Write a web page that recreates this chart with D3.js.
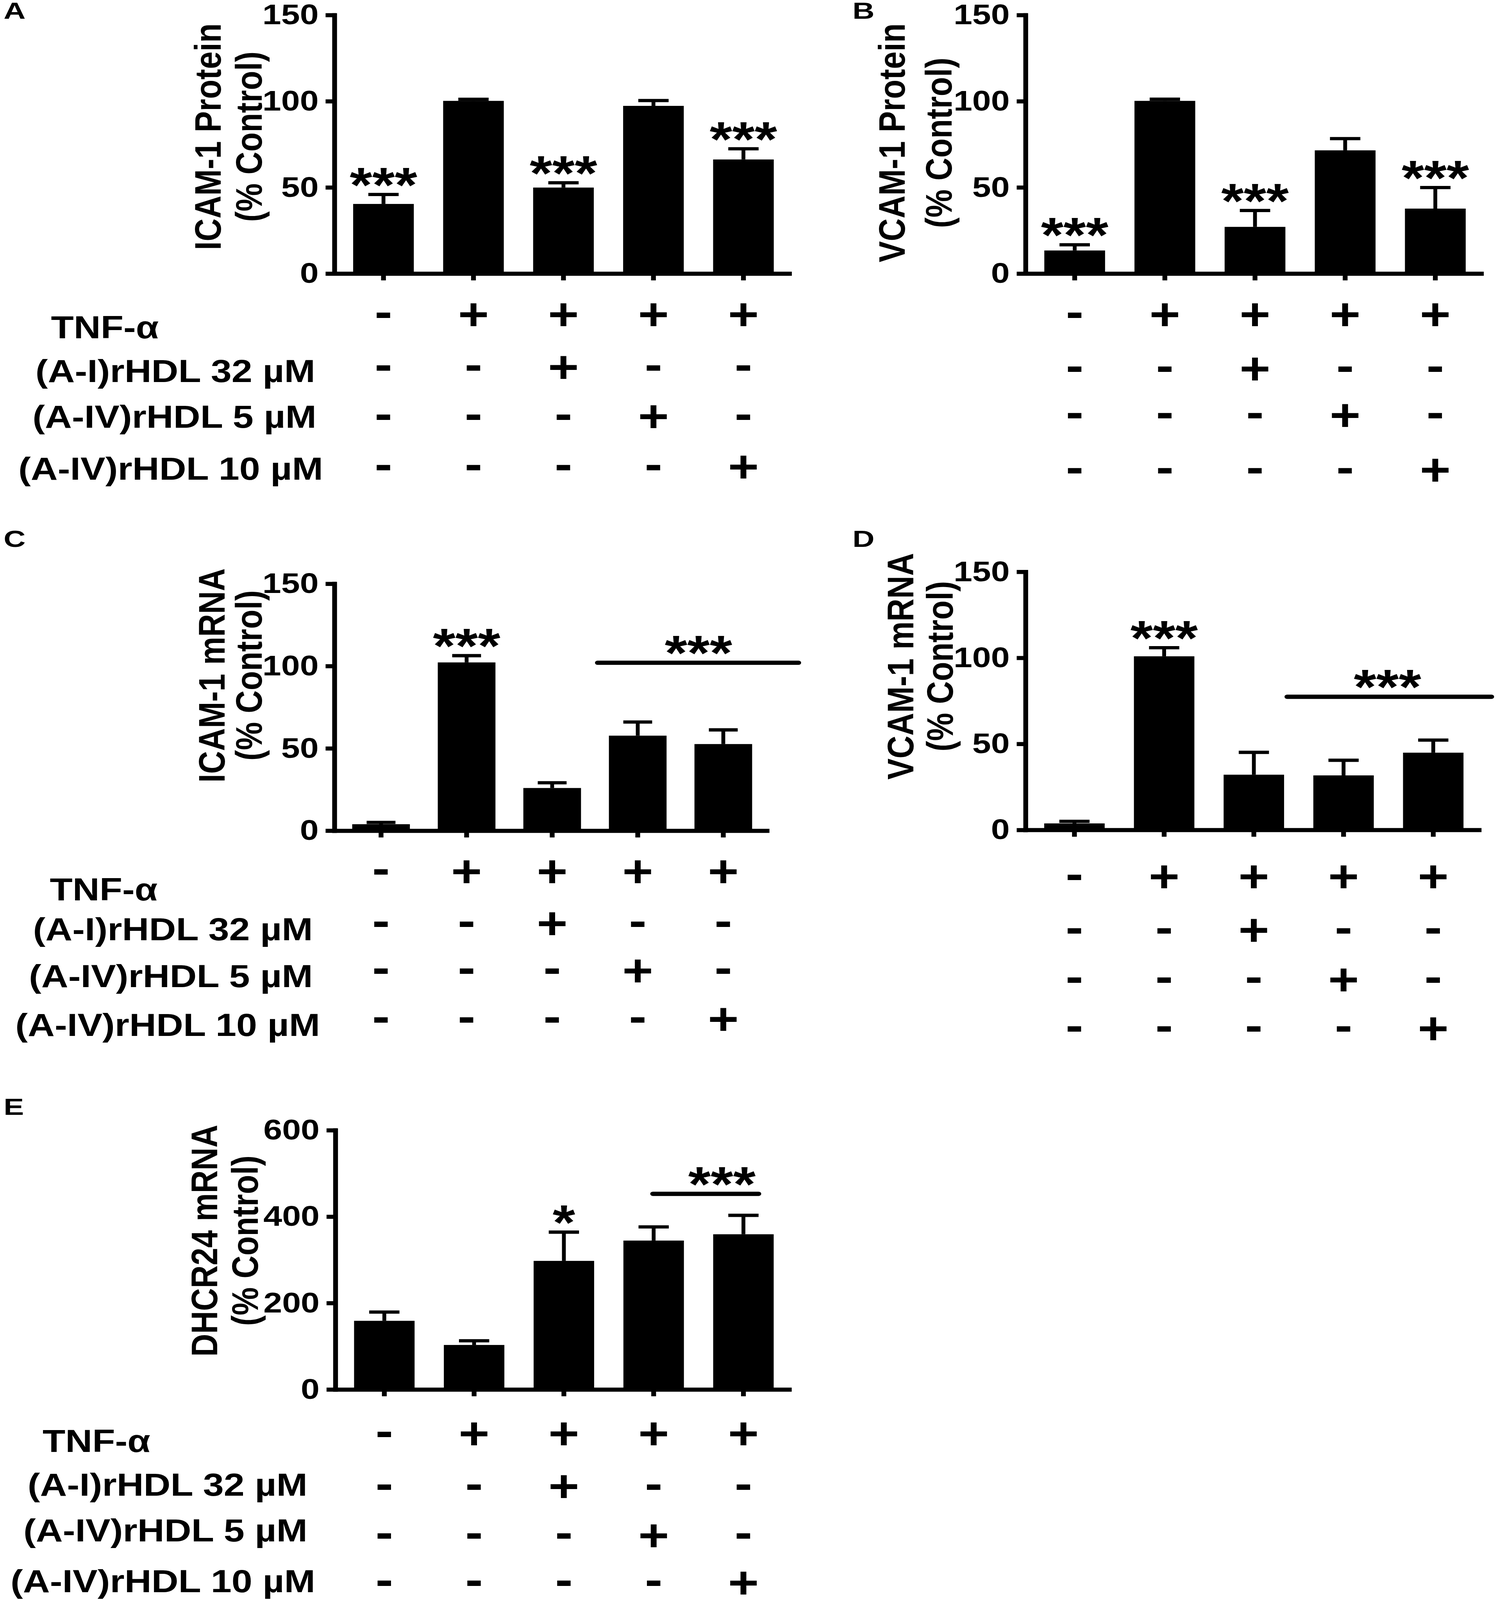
<!DOCTYPE html>
<html>
<head>
<meta charset="utf-8">
<script src="https://cdn.jsdelivr.net/npm/d3@7"></script>
<style>
  html, body { margin: 0; padding: 0; background: #fff; overflow: hidden; }
  svg { display: block; }
</style>
</head>
<body>
<div id="chart"></div>
<script>
// groups, same order in every panel
var categories = ['control', 'tnf', 'tnf_ai32', 'tnf_aiv5', 'tnf_aiv10'];

var treatmentLabels = ['TNF-α', '(A-I)rHDL 32 µM', '(A-IV)rHDL 5 µM', '(A-IV)rHDL 10 µM'];
var treatmentSigns = [
  ['-', '+', '+', '+', '+'],
  ['-', '-', '+', '-', '-'],
  ['-', '-', '-', '+', '-'],
  ['-', '-', '-', '-', '+']
];

var percentTicks = [0, 50, 100, 150];
var dhcrTicks = [0, 200, 400, 600];

// values (mean, SEM)
var icamProteinMean = [40.2, 100, 49.7, 97.1, 66.0];
var icamProteinSem = [5.5, 0.9, 2.8, 3.1, 6.2];
var icamProteinStars = ['***', '', '***', '', '***'];

var vcamProteinMean = [13.2, 100, 26.9, 71.3, 37.5];
var vcamProteinSem = [3.3, 1.0, 9.5, 6.8, 12.2];
var vcamProteinStars = ['***', '', '***', '', '***'];

var icamMrnaMean = [3.7, 102.0, 25.7, 57.5, 52.4];
var icamMrnaSem = [1.1, 4.1, 3.2, 8.3, 8.6];
var icamMrnaStars = ['', '***', '', '', ''];
var icamMrnaBracket = { from: 2.53, to: 4.88, level: 101.8, at: 3.71, label: '***' };

var vcamMrnaMean = [3.6, 100.7, 31.9, 31.5, 44.7];
var vcamMrnaSem = [1.2, 5.0, 13.0, 8.8, 7.3];
var vcamMrnaStars = ['', '***', '', '', ''];
var vcamMrnaBracket = { from: 2.37, to: 4.65, level: 77.2, at: 3.49, label: '***' };

var dhcrMrnaMean = [158.1, 102.2, 296.8, 343.8, 358.4];
var dhcrMrnaSem = [20.3, 9.7, 66.5, 31.6, 43.8];
var dhcrMrnaStars = ['', '', '*', '', ''];
var dhcrMrnaBracket = { from: 2.99, to: 4.17, level: 452, at: 3.76, label: '***' };

// drawing units: the figure is laid out on a 1250 x 1568 grid
var VW = 1250, VH = 4830 / 3.08;
var font = 'Liberation Sans, Arial, Helvetica, sans-serif';

// the window can be shorter than asked for, so fill whatever we get
var pageW = window.innerWidth || 3850, pageH = window.innerHeight || 4830;

var svg = d3.select('#chart').append('svg')
  .attr('width', pageW).attr('height', pageH)
  .attr('viewBox', '0 0 ' + VW + ' ' + VH)
  .attr('preserveAspectRatio', 'none');

svg.append('rect').attr('width', VW).attr('height', VH).attr('fill', '#fff');

var panels = [
  { letter: 'A', letterPos: [2, 18.5], title: ['ICAM-1 Protein', '(% Control)'], titleY: 134, titleX: [-94, -60],
    mean: icamProteinMean, sem: icamProteinSem, stars: icamProteinStars, bracket: null, ticks: percentTicks,
    x0: 277.6, x1: 655.6, yTop: 14.4, yBottom: 267.8,
    signRows: [308, 359.7, 408, 457.4],
    labelRows: [320.3, 363.4, 408, 459], labelRight: [130, 260, 261, 266.5] },
  { letter: 'B', letterPos: [707.5, 18.5], title: ['VCAM-1 Protein', '(% Control)'], titleY: 140, titleX: [-100, -61],
    mean: vcamProteinMean, sem: vcamProteinSem, stars: vcamProteinStars, bracket: null, ticks: percentTicks,
    x0: 852, x1: 1230.7, yTop: 14.4, yBottom: 267.8,
    signRows: [308, 361, 406.6, 460.5],
    labelRows: null },
  { letter: 'C', letterPos: [2, 536], title: ['ICAM-1 mRNA', '(% Control)'], titleY: 662, titleX: [-91, -60],
    mean: icamMrnaMean, sem: icamMrnaSem, stars: icamMrnaStars, bracket: icamMrnaBracket, ticks: percentTicks,
    x0: 277.6, x1: 637, yTop: 571.8, yBottom: 813.8,
    signRows: [853.8, 905, 951, 998.8],
    labelRows: [871.4, 910.4, 956.4, 1004.1], labelRight: [129, 258, 258, 264] },
  { letter: 'D', letterPos: [707.5, 536], title: ['VCAM-1 mRNA', '(% Control)'], titleY: 653, titleX: [-93, -60],
    mean: vcamMrnaMean, sem: vcamMrnaSem, stars: vcamMrnaStars, bracket: vcamMrnaBracket, ticks: percentTicks,
    x0: 852, x1: 1228.8, yTop: 560.1, yBottom: 813.1,
    signRows: [859, 911.4, 959.9, 1007.7],
    labelRows: null },
  { letter: 'E', letterPos: [2, 1092.6], title: ['DHCR24 mRNA', '(% Control)'], titleY: 1216, titleX: [-98, -64],
    mean: dhcrMrnaMean, sem: dhcrMrnaSem, stars: dhcrMrnaStars, bracket: dhcrMrnaBracket, ticks: dhcrTicks,
    x0: 278.4, x1: 655.5, yTop: 1107.4, yBottom: 1361.5,
    signRows: [1405, 1456.6, 1504.7, 1551],
    labelRows: [1412, 1454.9, 1499.5, 1549.3], labelRight: [123, 253.5, 253.5, 260] }
];

var starSize = 48, starGap = 12, starInk = 0.40 * starSize;
var signSize = 44, labelSize = 31, titleSize = 31, tickSize = 28;
var axisWidth = 4;

function addText(g, str, size) {
  return g.append('text')
    .text(str)
    .attr('font-family', font)
    .attr('font-weight', 'bold')
    .attr('font-size', size)
    .attr('fill', '#000');
}

function drawPanel(p) {
  var g = svg.append('g');

  var x = d3.scaleBand().domain(categories)
    .range([p.x0, p.x1]).paddingInner(0.326).paddingOuter(0.19).align(0.56);
  var y = d3.scaleLinear().domain([0, p.ticks[p.ticks.length - 1]])
    .range([p.yBottom, p.yTop]);
  var bw = x.bandwidth();
  function mid(i) { return x(categories[i]) + bw / 2; }
  // continuous position along the category axis (0 = first bar centre)
  var pos = d3.scaleLinear().domain([0, categories.length - 1])
    .range([mid(0), mid(categories.length - 1)]);

  var rows = categories.map(function(c, i) {
    return { key: c, i: i, mean: p.mean[i], sem: p.sem[i], star: p.stars[i] };
  });

  // error bars (upper half only)
  g.selectAll('line.err')
    .data(rows)
    .enter()
    .append('line')
    .attr('x1', function(d) { return mid(d.i); })
    .attr('x2', function(d) { return mid(d.i); })
    .attr('y1', function(d) { return y(d.mean); })
    .attr('y2', function(d) { return y(d.mean + d.sem); })
    .attr('stroke', '#000').attr('stroke-width', 3.2);

  g.selectAll('line.cap')
    .data(rows)
    .enter()
    .append('line')
    .attr('x1', function(d) { return mid(d.i) - bw / 4; })
    .attr('x2', function(d) { return mid(d.i) + bw / 4; })
    .attr('y1', function(d) { return y(d.mean + d.sem); })
    .attr('y2', function(d) { return y(d.mean + d.sem); })
    .attr('stroke', '#000').attr('stroke-width', 3.2);

  g.selectAll('rect.bar')
    .data(rows)
    .enter()
    .append('rect')
    .attr('x', function(d) { return x(d.key); })
    .attr('y', function(d) { return y(d.mean); })
    .attr('width', bw)
    .attr('height', function(d) { return y(0) - y(d.mean); })
    .attr('fill', '#000');

  // axes
  var yAxis = g.append('g')
    .attr('transform', 'translate(' + p.x0 + ',0)')
    .call(d3.axisLeft(y).tickValues(p.ticks).tickSize(5).tickSizeOuter(0).tickPadding(7.8));
  var xAxis = g.append('g')
    .attr('transform', 'translate(0,' + p.yBottom + ')')
    .call(d3.axisBottom(x).tickSize(5).tickSizeOuter(0));
  xAxis.selectAll('text').remove();

  [yAxis, xAxis].forEach(function(a) {
    a.selectAll('path, line')
      .attr('stroke', '#000').attr('stroke-width', axisWidth).attr('stroke-linecap', 'square');
    a.selectAll('text')
      .attr('font-family', font).attr('font-weight', 'bold')
      .attr('font-size', tickSize).attr('fill', '#000');
  });

  // significance stars over single bars
  rows.forEach(function(d) {
    if (!d.star) return;
    addText(g, d.star, starSize)
      .attr('text-anchor', 'middle')
      .attr('x', mid(d.i))
      .attr('y', y(d.mean + d.sem) - starGap + starInk);
  });

  // bracket over a group of bars
  if (p.bracket) {
    var b = p.bracket;
    g.append('line')
      .attr('x1', pos(b.from)).attr('x2', pos(b.to))
      .attr('y1', y(b.level)).attr('y2', y(b.level))
      .attr('stroke', '#000').attr('stroke-width', 4.2).attr('stroke-linecap', 'round');
    addText(g, b.label, starSize)
      .attr('text-anchor', 'middle')
      .attr('x', pos(b.at))
      .attr('y', y(b.level) - starGap + starInk);
  }

  // y title, two lines
  p.title.forEach(function(t, j) {
    addText(g, t, titleSize)
      .attr('text-anchor', 'middle')
      .attr('transform', 'translate(' + (p.x0 + p.titleX[j]) + ',' + p.titleY + ') rotate(-90)');
  });

  // +/- treatment grid
  treatmentSigns.forEach(function(signs, r) {
    signs.forEach(function(s, i) {
      addText(g, s, signSize)
        .attr('text-anchor', 'middle')
        .attr('x', mid(i))
        .attr('y', p.signRows[r] + (s === '+' ? 0.345 : 0.28) * signSize);
    });
  });

  if (p.labelRows) {
    treatmentLabels.forEach(function(t, r) {
      addText(g, t, labelSize)
        .attr('text-anchor', 'end')
        .attr('x', p.labelRight[r] + 2)
        .attr('y', p.labelRows[r] + 0.358 * labelSize);
    });
  }

  addText(g, p.letter, 23)
    .attr('transform', 'translate(' + (p.letterPos[0] + 1) + ',' + p.letterPos[1] + ') scale(1.1,1)');
}

panels.forEach(drawPanel);
</script>
</body>
</html>
